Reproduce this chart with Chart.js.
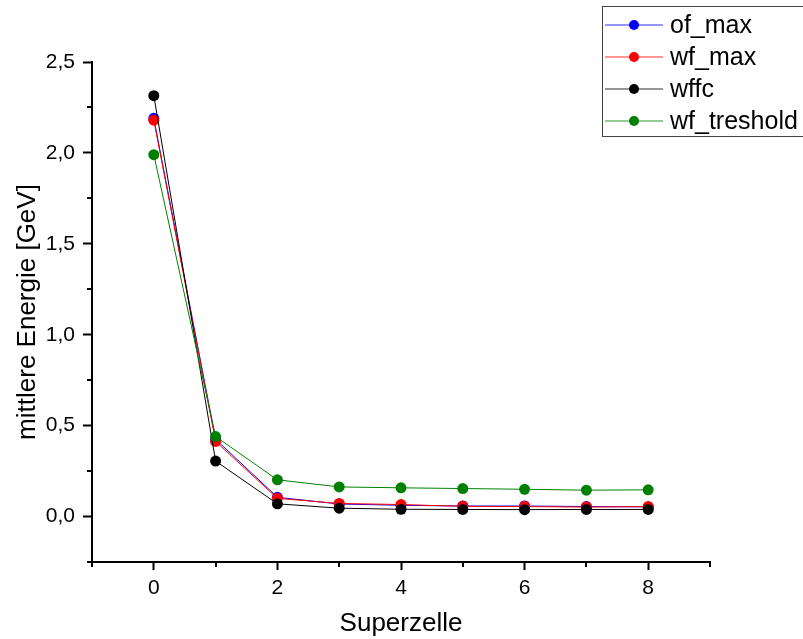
<!DOCTYPE html>
<html>
<head>
<meta charset="utf-8">
<script src="https://cdn.jsdelivr.net/npm/chart.js@4/dist/chart.umd.min.js"></script>
<style>
  body { margin: 0; background: #fff; }
  #wrap { width: 803px; height: 639px; }
</style>
</head>
<body>
<div id="wrap"><canvas id="energyChart" width="803" height="639"></canvas></div>
<script>
// Superzellen und mittlere Energien (GeV)
const superzelle = [0, 1, 2, 3, 4, 5, 6, 7, 8];
const ofMax = [2.19, 0.425, 0.106, 0.069, 0.062, 0.058, 0.058, 0.055, 0.053];
const wfMax = [2.18, 0.413, 0.100, 0.072, 0.066, 0.056, 0.055, 0.052, 0.055];
const wffc = [2.315, 0.305, 0.070, 0.046, 0.040, 0.039, 0.038, 0.039, 0.039];
const wfTreshold = [1.99, 0.440, 0.202, 0.163, 0.158, 0.154, 0.150, 0.145, 0.147];

const seriesNames = ["of_max", "wf_max", "wffc", "wf_treshold"];
const seriesColors = ["#0000ff", "#ff0000", "#000000", "#008000"];
const seriesValues = [ofMax, wfMax, wffc, wfTreshold];

const FONT = "Arial, 'Liberation Sans', sans-serif";

function toPoints(values) {
    return superzelle.map((x, i) => ({ x: x, y: values[i] }));
}

// kleine Ticks + Legende
const extras = {
    id: "extras",
    afterDraw(chart) {
        const ctx = chart.ctx;
        const xs = chart.scales.x;
        const ys = chart.scales.y;
        ctx.save();
        ctx.strokeStyle = "#000";
        ctx.lineWidth = 2;
        xs.ticks.forEach(t => {
            if (Math.abs(t.value % 2) === 1) {
                const px = Math.round(xs.getPixelForValue(t.value));
                ctx.beginPath();
                ctx.moveTo(px, xs.top);
                ctx.lineTo(px, xs.top + 5);
                ctx.stroke();
            }
        });
        ys.ticks.forEach(t => {
            const h = t.value * 2;
            if (Math.abs(h - Math.round(h)) > 1e-9) {
                const py = Math.round(ys.getPixelForValue(t.value));
                ctx.beginPath();
                ctx.moveTo(ys.right - 5, py);
                ctx.lineTo(ys.right, py);
                ctx.stroke();
            }
        });

        // Legende
        ctx.fillStyle = "#fff";
        ctx.fillRect(602, 6, 210, 131);
        ctx.strokeStyle = "#444";
        ctx.lineWidth = 1;
        ctx.strokeRect(602.5, 6.5, 210, 130);
        chart.data.datasets.forEach((ds, i) => {
            const y = 25 + i * 32;
            ctx.globalAlpha = 0.55;
            ctx.strokeStyle = ds.borderColor;
            ctx.lineWidth = 1.5;
            ctx.beginPath();
            ctx.moveTo(605, y);
            ctx.lineTo(663, y);
            ctx.stroke();
            ctx.globalAlpha = 1;
            ctx.fillStyle = ds.pointBackgroundColor;
            ctx.beginPath();
            ctx.arc(634, y, 5, 0, Math.PI * 2);
            ctx.fill();
            ctx.fillStyle = "#000";
            ctx.font = "25px " + FONT;
            ctx.textBaseline = "middle";
            ctx.textAlign = "left";
            ctx.fillText(ds.label, 670, y + 1);
        });
        ctx.restore();
    }
};

const datasets = seriesNames.map((name, i) => ({
    label: name,
    data: toPoints(seriesValues[i]),
    borderColor: seriesColors[i],
    backgroundColor: seriesColors[i],
    pointBackgroundColor: seriesColors[i],
    pointBorderColor: seriesColors[i],
    pointRadius: 5.5,
    pointBorderWidth: 0,
    borderWidth: 1,
    tension: 0,
    order: 3 - i
}));

new Chart(document.getElementById("energyChart").getContext("2d"), {
    type: "line",
    data: { datasets: datasets },
    options: {
        responsive: false,
        animation: false,
        layout: { padding: { top: 62, right: 93, left: 0, bottom: 0 } },
        plugins: {
            legend: { display: false },
            tooltip: { enabled: false }
        },
        scales: {
            x: {
                type: "linear",
                min: -1,
                max: 9,
                afterFit: (s) => { s.height = 77; },
                border: { display: true, color: "#000", width: 2 },
                grid: {
                    drawOnChartArea: false,
                    drawTicks: true,
                    tickLength: 8,
                    tickWidth: 2,
                    tickColor: (c) => (c.tick && Math.abs(c.tick.value % 2) === 1) ? "rgba(0,0,0,0)" : "#000"
                },
                ticks: {
                    stepSize: 1,
                    autoSkip: false,
                    maxRotation: 0,
                    padding: 6,
                    color: "#000",
                    font: { size: 21, family: FONT },
                    callback: (v) => (v % 2 === 0 ? String(v) : "")
                },
                title: {
                    display: true,
                    text: "Superzelle",
                    color: "#000",
                    font: { size: 26, family: FONT },
                    padding: { top: 0, bottom: 0 }
                }
            },
            y: {
                min: -0.25,
                max: 2.5,
                afterFit: (s) => { s.width = 92; },
                border: { display: true, color: "#000", width: 2 },
                grid: {
                    drawOnChartArea: false,
                    drawTicks: true,
                    tickLength: 9,
                    tickWidth: 2,
                    tickColor: (c) => {
                        if (!c.tick) return "#000";
                        const h = c.tick.value * 2;
                        return Math.abs(h - Math.round(h)) > 1e-9 ? "rgba(0,0,0,0)" : "#000";
                    }
                },
                ticks: {
                    stepSize: 0.25,
                    autoSkip: false,
                    padding: 8,
                    color: "#000",
                    font: { size: 21, family: FONT },
                    callback: (v) => {
                        const h = v * 2;
                        if (Math.abs(h - Math.round(h)) > 1e-9) return "";
                        if (v < 0) return "";
                        return v.toFixed(1).replace(".", ",");
                    }
                },
                title: {
                    display: true,
                    text: "mittlere Energie [GeV]",
                    color: "#000",
                    font: { size: 26, family: FONT },
                    padding: { top: 12, bottom: 0 }
                }
            }
        }
    },
    plugins: [extras]
});
</script>
</body>
</html>
